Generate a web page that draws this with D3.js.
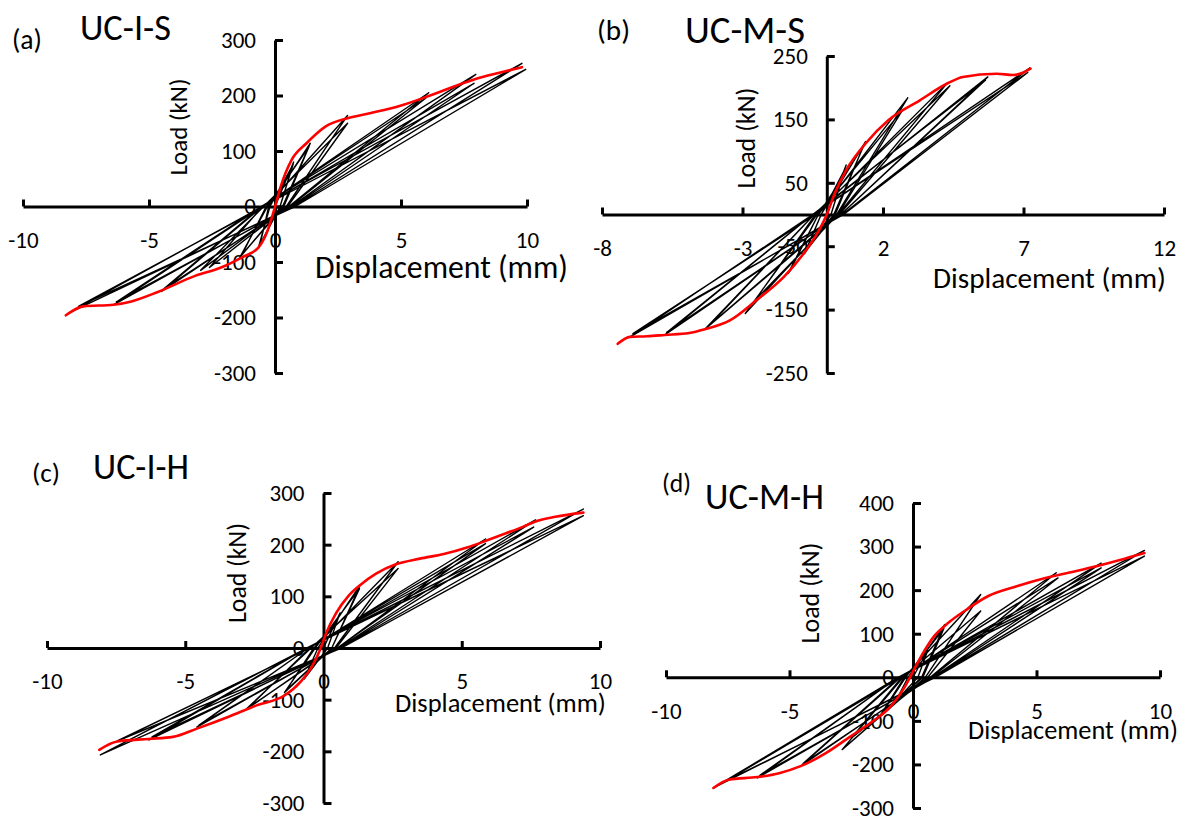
<!DOCTYPE html>
<html>
<head>
<meta charset="utf-8">
<script src="https://cdn.jsdelivr.net/npm/d3@7"></script>
<style>
  body { margin: 0; background: #fff; }
  text { font-family: Carlito, Lato, "Open Sans", sans-serif; fill: #000; }
</style>
</head>
<body>
<svg id="chart" width="1186" height="819"></svg>
<script>
// ---- tick values ----
var ticksX10 = [-10, -5, 0, 5, 10];
var ticksY300 = [-300, -200, -100, 0, 100, 200, 300];
var ticksXb = [-8, -3, 2, 7, 12];
var ticksYb = [-250, -150, -50, 50, 150, 250];
var ticksYd = [-300, -200, -100, 0, 100, 200, 300, 400];

// ---- (a) UC-I-S : [displacement mm, load kN] ----
var loopA = [
  [0,0],
  [0.74,80],[0.2,0],[-0.66,-74],[-0.2,0],
  [0.72,76],[0.2,0],[-0.6,-70],[-0.25,0],
  [1.4,114],[0.3,0],[-1.4,-92],[-0.3,0],
  [1.35,108],[0.35,0],[-1.3,-86],[-0.35,0],
  [2.88,164],[0.45,0],[-2.95,-115],[-0.45,0],
  [2.88,150],[0.5,0],[-2.6,-110],[-0.5,0],
  [6.1,205],[0.55,0],[-4.5,-153],[-0.5,0],
  [6.0,196],[0.6,0],[-4.4,-148],[-0.55,0],
  [7.97,238],[0.65,0],[-6.4,-177],[-0.5,0],
  [7.9,222],[0.7,0],[-6.3,-172],[-0.55,0],
  [9.8,258],[0.74,0],[-8.2,-192],[-0.5,0],
  [9.95,247],[0.8,0],[-7.8,-180],[-0.45,0]
];
var envA = [
  [-8.3,-196],[-7.6,-180],[-6.4,-177],[-5.7,-171],[-4.65,-154],[-3.17,-125],
  [-2.14,-110],[-1.33,-92],[-0.66,-74],[-0.3,-44],[0,-1],[0.22,35],[0.66,84],
  [1.25,114],[2.0,144],[2.88,159],[3.76,168],[4.94,181],[6.1,199],[7.9,229],
  [8.9,241],[9.8,251]
];

// ---- (b) UC-M-S ----
var loopB = [
  [0,0],
  [0.69,78],[0.15,0],[-0.8,-62],[-0.2,0],
  [0.65,72],[0.15,0],[-0.75,-58],[-0.2,0],
  [1.38,115],[0.25,0],[-1.38,-93],[-0.3,0],
  [1.3,108],[0.3,0],[-1.3,-88],[-0.3,0],
  [2.88,184],[0.35,0],[-2.9,-156],[-0.35,0],
  [2.7,165],[0.4,0],[-2.55,-135],[-0.4,0],
  [4.3,208],[0.4,0],[-4.34,-181],[-0.45,0],
  [4.38,203],[0.45,0],[-4.2,-176],[-0.45,0],
  [5.73,217],[0.5,0],[-5.77,-190],[-0.5,0],
  [5.65,212],[0.5,0],[-5.7,-186],[-0.5,0],
  [7.22,231],[0.55,0],[-7.0,-193],[-0.5,0],
  [7.15,224],[0.6,0],[-6.9,-188],[-0.4,0]
];
var envB = [
  [-7.44,-204],[-7.0,-193],[-6.4,-192],[-5.77,-190],[-4.9,-187],[-4.34,-181],
  [-3.45,-167],[-2.5,-135],[-1.52,-98],[-0.83,-62],[-0.28,-25],[0,0],[0.28,33],
  [0.69,70],[1.38,112],[2.2,149],[3.31,180],[4.3,207],[4.84,217],[6.05,222],
  [6.62,220],[7.0,224],[7.25,230]
];

// ---- (c) UC-I-H ----
var loopC = [
  [0,0],
  [0.6,68],[0.15,0],[-0.7,-60],[-0.2,0],
  [1.33,122],[0.3,0],[-1.41,-86],[-0.3,0],
  [1.3,115],[0.3,0],[-1.35,-82],[-0.35,0],
  [2.7,167],[0.4,0],[-2.85,-121],[-0.45,0],
  [2.7,154],[0.45,0],[-2.7,-115],[-0.5,0],
  [5.86,211],[0.5,0],[-4.58,-153],[-0.55,0],
  [5.86,202],[0.5,0],[-4.5,-149],[-0.55,0],
  [7.67,248],[0.55,0],[-6.31,-178],[-0.6,0],
  [7.6,234],[0.6,0],[-6.2,-172],[-0.6,0],
  [9.4,269],[0.6,0],[-8.07,-207],[-0.6,0],
  [9.4,256],[0.65,0],[-7.46,-180],[-0.5,0]
];
var envC = [
  [-8.11,-197],[-7.46,-181],[-6.31,-176],[-5.45,-172],[-4.58,-156],[-3.43,-133],
  [-2.42,-111],[-1.41,-92],[-0.84,-66],[-0.4,-34],[-0.12,-3],[0.1,29],[0.46,68],
  [0.89,100],[1.33,122],[1.9,144],[2.62,162],[3.49,173],[4.35,182],[5.22,195],
  [5.9,208],[6.6,222],[7.23,235],[7.67,245],[8.39,254],[9.4,262]
];

// ---- (d) UC-M-H ----
var loopD = [
  [0,0],
  [0.6,62],[0.2,0],[-0.7,-55],[-0.2,0],
  [1.28,121],[0.35,0],[-1.34,-90],[-0.3,0],
  [1.25,112],[0.4,0],[-1.3,-85],[-0.35,0],
  [2.74,190],[0.5,0],[-2.87,-166],[-0.4,0],
  [2.74,152],[0.6,0],[-2.5,-140],[-0.45,0],
  [5.8,240],[0.7,0],[-4.55,-204],[-0.5,0],
  [5.87,228],[0.75,0],[-4.45,-198],[-0.55,0],
  [7.62,262],[0.8,0],[-6.3,-231],[-0.6,0],
  [7.62,251],[0.85,0],[-6.2,-225],[-0.6,0],
  [9.37,291],[0.85,0],[-8.08,-254],[-0.6,0],
  [9.37,278],[0.9,0],[-7.6,-239],[-0.5,0]
];
var envD = [
  [-8.08,-254],[-7.46,-235],[-6.3,-229],[-5.42,-220],[-4.55,-204],[-3.53,-174],
  [-2.51,-135],[-1.63,-101],[-0.9,-67],[-0.32,-21],[-0.03,10],[0.41,56],[0.85,94],
  [1.43,125],[2.16,155],[3.03,186],[4.2,209],[5.36,228],[6.53,243],[7.7,259],
  [8.57,272],[9.37,285]
];

// panel layout (pixel positions)
var panels = [
  {letter:"(a)", title:"UC-I-S", loop:loopA, env:envA,
   xDom:[-10,10], xRng:[23,527], yDom:[-300,300], yRng:[373,40], xT:ticksX10, yT:ticksY300,
   L:{x:12,cy:39,w:30}, T:{x:80,cy:27,w:91}, XT:{x:315,cy:268,w:253}, YT:{cx:178,cy:127,w:97}},
  {letter:"(b)", title:"UC-M-S", loop:loopB, env:envB,
   xDom:[-8,12], xRng:[602,1164], yDom:[-250,250], yRng:[373,56], xT:ticksXb, yT:ticksYb,
   L:{x:597,cy:30,w:33}, T:{x:685,cy:29,w:120}, XT:{x:933,cy:279,w:233}, YT:{cx:746,cy:138,w:101}},
  {letter:"(c)", title:"UC-I-H", loop:loopC, env:envC,
   xDom:[-10,10], xRng:[47,600], yDom:[-300,300], yRng:[803,493], xT:ticksX10, yT:ticksY300,
   L:{x:32,cy:472,w:28}, T:{x:93,cy:466,w:96}, XT:{x:395,cy:704,w:211}, YT:{cx:237,cy:573,w:100}},
  {letter:"(d)", title:"UC-M-H", loop:loopD, env:envD,
   xDom:[-10,10], xRng:[666,1160], yDom:[-300,400], yRng:[808,503], xT:ticksX10, yT:ticksYd,
   L:{x:662,cy:483,w:29}, T:{x:705,cy:496,w:119}, XT:{x:968,cy:731,w:210}, YT:{cx:810,cy:593,w:101}}
];

var svg = d3.select("#chart");
svg.append("rect").attr("width", 1186).attr("height", 819).attr("fill", "#fff");

// shrink/grow a text so its length matches the picture
function fit(sel, w) {
  var len = sel.node().getComputedTextLength();
  var fs = parseFloat(sel.attr("font-size"));
  sel.attr("font-size", fs * w / len);
}

panels.forEach(function(p) {
  var x = d3.scaleLinear().domain(p.xDom).range(p.xRng);
  var y = d3.scaleLinear().domain(p.yDom).range(p.yRng);
  var g = svg.append("g");

  // x axis sits on load = 0, ticks point up, labels below
  var gx = g.append("g")
    .attr("transform", "translate(0," + y(0) + ")")
    .call(d3.axisBottom(x).tickValues(p.xT).tickSizeInner(-7).tickSizeOuter(0)
      .tickPadding(25).tickFormat(function(d){ return String(d); }));
  // y axis sits on displacement = 0, ticks point right, labels left
  var gy = g.append("g")
    .attr("transform", "translate(" + x(0) + ",0)")
    .call(d3.axisLeft(y).tickValues(p.yT).tickSizeInner(-8).tickSizeOuter(0)
      .tickPadding(19).tickFormat(function(d){ return String(d); }));

  [gx, gy].forEach(function(a) {
    a.attr("font-family", null).attr("font-size", 23);
    a.select(".domain").attr("stroke", "#000").attr("stroke-width", 3);
    a.selectAll(".tick line").attr("stroke", "#000").attr("stroke-width", 3);
    a.selectAll(".tick text").attr("fill", "#000");
  });

  // hysteresis loops
  var line = d3.line()
    .x(function(d){ return x(d[0]); })
    .y(function(d){ return y(d[1]); });
  g.append("path")
    .datum(p.loop)
    .attr("d", line)
    .attr("fill", "none")
    .attr("stroke", "#000")
    .attr("stroke-width", 1.4)
    .attr("stroke-linejoin", "round");

  // envelope curve
  var envLine = d3.line()
    .curve(d3.curveMonotoneX)
    .x(function(d){ return x(d[0]); })
    .y(function(d){ return y(d[1]); });
  g.append("path")
    .datum(p.env)
    .attr("d", envLine)
    .attr("fill", "none")
    .attr("stroke", "#ff0000")
    .attr("stroke-width", 2.6)
    .attr("stroke-linecap", "round");

  // texts
  var t1 = g.append("text").attr("x", p.L.x).attr("y", p.L.cy).attr("dy", "0.35em")
    .attr("font-size", 22).text(p.letter);
  fit(t1, p.L.w);
  var t2 = g.append("text").attr("x", p.T.x).attr("y", p.T.cy).attr("dy", "0.35em")
    .attr("font-size", 30).text(p.title);
  fit(t2, p.T.w);
  var t3 = g.append("text").attr("x", p.XT.x).attr("y", p.XT.cy).attr("dy", "0.32em")
    .attr("font-size", 26).text("Displacement (mm)");
  fit(t3, p.XT.w);
  var t4 = g.append("text")
    .attr("transform", "translate(" + p.YT.cx + "," + p.YT.cy + ") rotate(-90)")
    .attr("text-anchor", "middle").attr("dy", "0.35em")
    .attr("font-size", 23).text("Load (kN)");
  fit(t4, p.YT.w);
});
</script>
</body>
</html>
